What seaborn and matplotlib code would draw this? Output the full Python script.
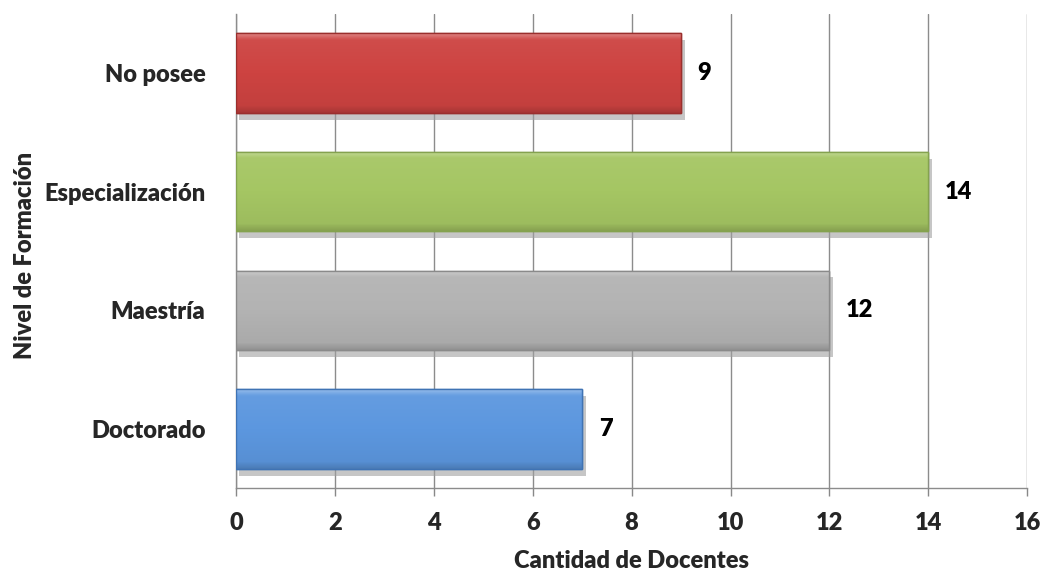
import matplotlib
matplotlib.use("Agg")
import matplotlib.pyplot as plt
import matplotlib.patheffects as pe
import matplotlib.colors as mcolors
import numpy as np
import seaborn as sns
import pandas as pd

categories = ["No posee", "Especialización", "Maestría", "Doctorado"]
docentes = [9, 14, 12, 7]
bar_colors = ["#CD4341", "#A5C663", "#B3B3B3", "#5C97DF"]
edge_colors = ["#9A2F2D", "#84A24F", "#8A8A8A", "#3F73B4"]
x_ticks = [0, 2, 4, 6, 8, 10, 12, 14, 16]

sns.set_theme(style="white")
plt.rcParams["font.family"] = ["Lato", "DejaVu Sans"]

df = pd.DataFrame({"Nivel": categories, "Cantidad": docentes})

fig = plt.figure(figsize=(10.44, 5.75), dpi=100)
ax = fig.add_axes([0.226, 0.151, 0.758, 0.825])

sns.barplot(data=df, y="Nivel", x="Cantidad", hue="Nivel", palette=bar_colors,
            order=categories, hue_order=categories, legend=False, width=0.67,
            saturation=1, orient="h", ax=ax, zorder=3)


def shade(rgb, f):
    rgb = np.asarray(rgb)
    return np.clip(rgb + f * (1 - rgb) if f > 0 else rgb * (1 + f), 0, 1)


# soft vertical bevel on every bar: lighter top rim, darker lower part
profile = np.concatenate([
    np.linspace(0.35, 0.08, 6),
    np.linspace(0.05, -0.05, 60),
    np.linspace(-0.08, -0.18, 6),
])
for patch, ec in zip(list(ax.patches), edge_colors):
    patch.set_edgecolor(ec)
    patch.set_linewidth(1.0)
    patch.set_path_effects([
        pe.SimplePatchShadow(offset=(2.5, -5), shadow_rgbFace="#a0a0a0", alpha=0.6),
        pe.Normal(),
    ])
    base = mcolors.to_rgb(patch.get_facecolor())
    grad = np.array([shade(base, f) for f in profile])[:, None, :]
    x0, y0 = patch.get_x(), patch.get_y()
    w, h = patch.get_width(), patch.get_height()
    img = ax.imshow(grad, extent=[x0, x0 + w, y0 + h, y0], aspect="auto",
                    interpolation="bilinear", zorder=3.1)
    img.set_clip_path(patch)
    ax.add_patch(plt.Rectangle((x0, y0), w, h, fill=False, edgecolor=ec,
                               linewidth=1.0, zorder=3.2))

FS = 17
WEIGHT = "heavy"

for cont in ax.containers:
    ax.bar_label(cont, labels=[f"{int(v)}" for v in cont.datavalues], padding=12,
                 fontsize=FS, fontweight=WEIGHT, color="black")

ax.set_xlim(0, 16)
ax.set_ylim(3.5, -0.5)
ax.set_xticks(x_ticks)
ax.set_xticklabels([str(t) for t in x_ticks], fontsize=FS, fontweight=WEIGHT)
ax.tick_params(axis="y", labelsize=FS, length=0, pad=22)
for lab in ax.get_yticklabels():
    lab.set_fontweight(WEIGHT)
ax.tick_params(axis="x", length=6, width=1, color="#888888", direction="out", pad=11,
               bottom=True)

ax.grid(axis="x", color="#8c8c8c", linewidth=1, zorder=0)
ax.set_axisbelow(True)
for side in ["top", "right"]:
    ax.spines[side].set_visible(False)
for side in ["left", "bottom"]:
    ax.spines[side].set_color("#8c8c8c")
    ax.spines[side].set_linewidth(1)

ax.set_xlabel("Cantidad de Docentes", fontsize=FS, fontweight=WEIGHT, labelpad=12)
ax.set_ylabel("Nivel de Formación", fontsize=FS, fontweight=WEIGHT, labelpad=6, y=0.49)

fig.savefig("out.png", dpi=100)
